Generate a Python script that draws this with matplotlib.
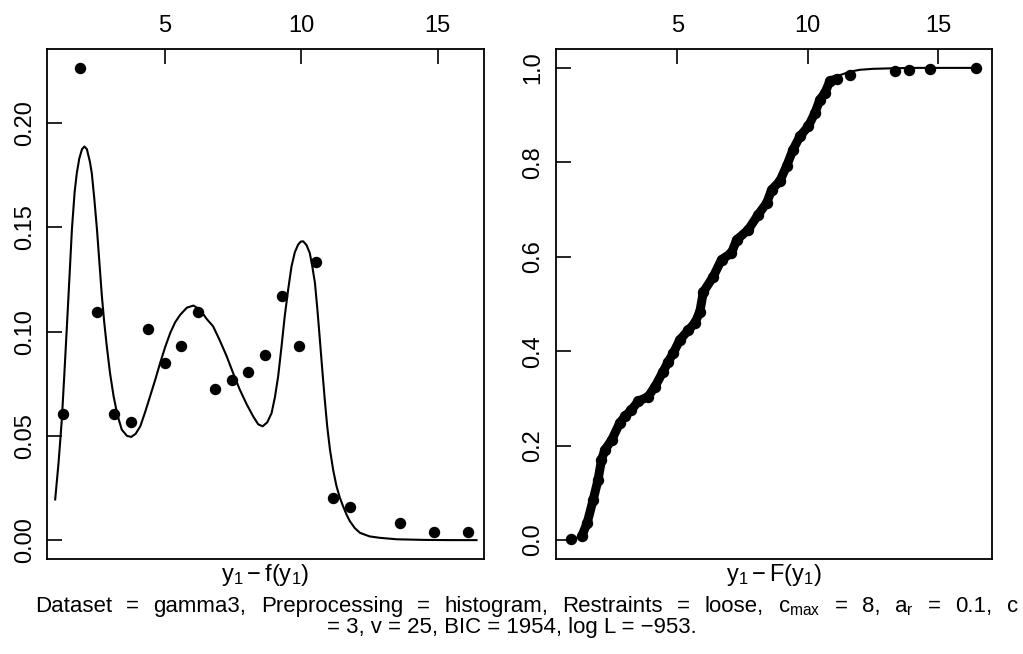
import matplotlib
matplotlib.use("Agg")
import matplotlib.pyplot as plt
import numpy as np

plt.rcParams['font.family'] = ['Liberation Sans', 'DejaVu Sans']
plt.rcParams['mathtext.fontset'] = 'custom'
plt.rcParams['mathtext.rm'] = 'Liberation Sans'
plt.rcParams['mathtext.it'] = 'Liberation Sans:italic'
plt.rcParams['mathtext.bf'] = 'Liberation Sans:bold'

# ---- left panel: histogram-preprocessed density points ----
hist_x = [1.26, 1.87, 2.50, 3.13, 3.74, 4.36, 4.98, 5.59, 6.21, 6.84, 7.45,
          8.06, 8.67, 9.30, 9.92, 10.53, 11.16, 11.77, 13.63, 14.86, 16.11]
hist_y = [0.0606, 0.2265, 0.1093, 0.0606, 0.0565, 0.1011, 0.0850, 0.0930,
          0.1093, 0.0727, 0.0769, 0.0808, 0.0890, 0.1173, 0.0930, 0.1334,
          0.0201, 0.0161, 0.0080, 0.0040, 0.0040]

# fitted density curve
pdf_x = [0.966, 1.09, 1.21, 1.30, 1.39, 1.49, 1.58, 1.68, 1.76, 1.85, 1.95,
         2.04, 2.13, 2.24, 2.31, 2.40, 2.50, 2.59, 2.68, 2.77, 2.86, 2.98,
         3.11, 3.25, 3.41, 3.60, 3.76, 3.92, 4.09, 4.27, 4.45, 4.64, 4.82,
         5.00, 5.19, 5.37, 5.55, 5.80, 6.04, 6.28, 6.53, 6.76, 7.00, 7.26,
         7.50, 7.74, 8.00, 8.23, 8.42, 8.58, 8.75, 8.91, 9.03, 9.15, 9.27,
         9.39, 9.52, 9.64, 9.76, 9.88, 9.98, 10.07, 10.19, 10.31, 10.40,
         10.50, 10.59, 10.68, 10.77, 10.86, 10.95, 11.05, 11.17, 11.29,
         11.41, 11.53, 11.66, 11.78, 11.96, 12.15, 12.50, 12.88, 13.50,
         14.50, 15.50, 16.43]
pdf_y = [0.0195, 0.0371, 0.0578, 0.0790, 0.1010, 0.1260, 0.1490, 0.1670,
         0.1760, 0.1830, 0.1875, 0.1888, 0.1875, 0.1815, 0.1760, 0.1640,
         0.1490, 0.1330, 0.1170, 0.1040, 0.0930, 0.0800, 0.0690, 0.0600,
         0.0530, 0.0500, 0.0495, 0.0510, 0.0546, 0.0615, 0.0690, 0.0770,
         0.0850, 0.0925, 0.0994, 0.1045, 0.1080, 0.1115, 0.1125, 0.1106,
         0.1060, 0.1026, 0.0960, 0.0882, 0.0800, 0.0722, 0.0650, 0.0594,
         0.0555, 0.0546, 0.0565, 0.0610, 0.0685, 0.0786, 0.0925, 0.1073,
         0.1205, 0.1313, 0.1380, 0.1417, 0.1432, 0.1433, 0.1415, 0.1377,
         0.1315, 0.1233, 0.1105, 0.0962, 0.0815, 0.0674, 0.0545, 0.0435,
         0.0335, 0.0259, 0.0205, 0.0163, 0.0122, 0.0091, 0.0058, 0.0035,
         0.0018, 0.0011, 0.0004, 0.0001, 0.0000, 0.0000]

ecdf_x = [0.95, 1.34, 1.55, 1.78, 1.97, 2.10, 2.23, 2.49, 2.80, 3.00, 3.25,
          3.51, 3.89, 4.15, 4.46, 4.66, 4.85, 5.10, 5.42, 5.68, 5.87, 6.00,
          6.38, 6.70, 7.08, 7.28, 7.72, 8.10, 8.43, 8.62, 8.93, 9.19, 9.44,
          9.70, 10.02, 10.28, 10.47, 10.66, 10.85, 11.11, 11.62, 13.34,
          13.87, 14.68, 16.43]
ecdf_y = [0.002, 0.008, 0.036, 0.085, 0.128, 0.170, 0.191, 0.212, 0.248,
          0.262, 0.276, 0.294, 0.304, 0.325, 0.357, 0.378, 0.396, 0.424,
          0.444, 0.460, 0.484, 0.525, 0.558, 0.594, 0.608, 0.636, 0.657,
          0.689, 0.714, 0.742, 0.760, 0.792, 0.827, 0.855, 0.876, 0.905,
          0.933, 0.947, 0.972, 0.977, 0.986, 0.9925, 0.995, 0.9975, 1.000]
n_band = 40  # points forming the dense band (before the sparse tail)

# fitted CDF curve
cdf_x = [0.965, 1.34, 1.55, 1.78, 1.97, 2.10, 2.23, 2.49, 2.80, 3.25, 3.89,
         4.46, 5.10, 5.68, 6.00, 6.70, 7.28, 8.10, 8.62, 9.19, 9.70, 10.28,
         10.66, 10.90, 11.20, 11.62, 12.00, 12.50, 13.15, 14.00, 16.43]
cdf_y = [0.000, 0.010, 0.036, 0.085, 0.128, 0.168, 0.190, 0.214, 0.246,
         0.276, 0.305, 0.356, 0.424, 0.462, 0.520, 0.592, 0.636, 0.690,
         0.742, 0.792, 0.855, 0.905, 0.947, 0.972, 0.984, 0.992, 0.996,
         0.998, 0.999, 1.000, 1.000]

x_ticks = [5, 10, 15]
left_yticks = [0.00, 0.05, 0.10, 0.15, 0.20]
right_yticks = [0.0, 0.2, 0.4, 0.6, 0.8, 1.0]

caption1_words = ["Dataset", "=", "gamma3,", "Preprocessing", "=", "histogram,",
                  "Restraints", "=", "loose,", r"c$_{\mathrm{max}}$", "=", "8,",
                  r"a$_{\mathrm{r}}$", "=", "0.1,", "c"]
caption2 = "= 3, v = 25, BIC = 1954, log L = \u2212953."

W, H = 1023, 654
fig = plt.figure(figsize=(W/100, H/100), dpi=100)
ax1 = fig.add_axes([47/W, 1-559/H, (484-47)/W, (559-49)/H])
ax2 = fig.add_axes([555.7/W, 1-559/H, (991.7-555.7)/W, (559-49)/H])

FS = 17
CFS = 16


def r_lim(vals):
    lo, hi = min(vals), max(vals)
    pad = 0.04 * (hi - lo)
    return lo - pad, hi + pad


def style(ax, yticks, fmt):
    ax.set_xticks(x_ticks)
    ax.set_xticklabels([str(t) for t in x_ticks])
    ax.set_yticks(yticks)
    ax.set_yticklabels([fmt % t for t in yticks], rotation=90, va='center')
    ax.tick_params(axis='x', direction='in', length=11, width=1.2,
                   top=True, bottom=False, labeltop=True, labelbottom=False,
                   labelsize=FS, pad=9)
    ax.tick_params(axis='y', direction='in', length=11, width=1.2,
                   left=True, right=False, labelsize=FS, pad=8)
    for s in ax.spines.values():
        s.set_linewidth(1.3)


# left panel
ax1.plot(pdf_x, pdf_y, color='black', lw=1.5)
ax1.plot(hist_x, hist_y, 'o', color='black', ms=7.2, mec='black')
ax1.set_xlim(*r_lim(hist_x))
ax1.set_ylim(*r_lim([0] + hist_y))
style(ax1, left_yticks, '%.2f')
ax1.set_xlabel(r'$\mathrm{y_1 - f(y_1)}$', fontsize=FS, labelpad=2)

# right panel
ax2.plot(cdf_x, cdf_y, color='black', lw=1.5)
ax2.plot(ecdf_x[1:n_band], ecdf_y[1:n_band], color='black', lw=6.5,
         solid_capstyle='round', solid_joinstyle='round')
ax2.plot(ecdf_x, ecdf_y, 'o', color='black', ms=7.2, mec='black')
ax2.set_xlim(*r_lim(cdf_x))
ax2.set_ylim(*r_lim([0, 1]))
style(ax2, right_yticks, '%.1f')
ax2.set_xlabel(r'$\mathrm{y_1 - F(y_1)}$', fontsize=FS, labelpad=2)

# caption: first line fully justified, second line centred
renderer = fig.canvas.get_renderer()
x_left, x_right = 35.0, 1018.0
y1_base = 1 - 612/H
texts = [fig.text(0, y1_base, w, ha='left', va='baseline', fontsize=CFS)
         for w in caption1_words]
widths = [t.get_window_extent(renderer).width for t in texts]
gap = (x_right - x_left - sum(widths)) / (len(texts) - 1)
xpos = x_left
for t, wdt in zip(texts, widths):
    t.set_x(xpos / W)
    xpos += wdt + gap
fig.text(512/W, 1 - 633/H, caption2, ha='center', va='baseline', fontsize=CFS)

fig.savefig('out.png', dpi=100)
